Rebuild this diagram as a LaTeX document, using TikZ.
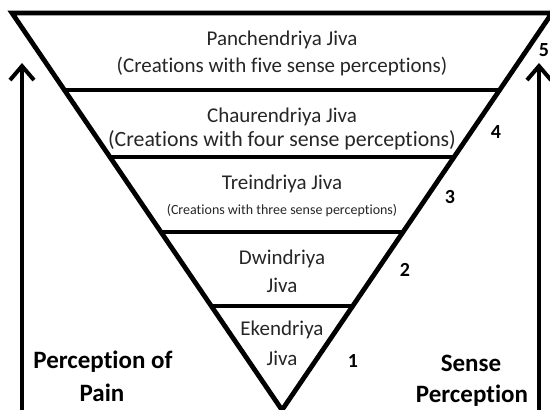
\documentclass[tikz,border=0pt]{standalone}
\usepackage{fontspec}
\setmainfont{Carlito}[Ligatures=NoCommon]
\usetikzlibrary{arrows.meta,calc}
\begin{document}
\begin{tikzpicture}[x=1pt,y=-1pt,
  edge/.style={line width=4.8pt, line join=miter},
  lbl/.style={text=black!85, font=\fontsize{21}{25}\selectfont, inner sep=0pt},
  biglbl/.style={text=black!85, font=\fontsize{21.8}{25}\selectfont, inner sep=0pt},
  smalllbl/.style={text=black!85, font=\fontsize{14}{17}\selectfont, inner sep=0pt},
  num/.style={font=\bfseries\fontsize{20}{24}\selectfont, inner sep=0pt},
  side/.style={font=\bfseries\fontsize{25}{30}\selectfont, inner sep=0pt},
  uparrow/.style={line width=4pt, -{Straight Barb[length=14pt,width=24pt,line width=4pt]}}]
\useasboundingbox (0,0) rectangle (550,410);
\fill[white] (0,0) rectangle (550,410);
\coordinate (TL) at (12,13);
\coordinate (TR) at (552,13);
\coordinate (A) at (282,410);
\draw[edge] (TL) -- (TR) -- (A) -- cycle;
\foreach \t in {0.194,0.3627,0.5516,0.738}
  \draw[edge] ($(TL)!\t!(A)$) -- ($(TR)!\t!(A)$);
% labels
\node[lbl] (p1) at (282,40) {Panchendriya Jiva};
\node[lbl] (p2) at (282,67) {(Creations with five sense perceptions)};
\node[lbl] (c1) at (282,117) {Chaurendriya Jiva};
\node[biglbl] (c2) at (282,140) {(Creations with four sense perceptions)};
\node[lbl] (t1) at (282,184) {Treindriya Jiva};
\node[smalllbl] (t2) at (282,211) {(Creations with three sense perceptions)};
\node[lbl] (d1) at (282,259) {Dwindriya};
\node[lbl] (d2) at (282,285) {Jiva};
\node[lbl] (e1) at (282,330) {Ekendriya};
\node[lbl] (e2) at (282,358) {Jiva};
% numbers
\node[num] (n5) at (544,50) {5};
\node[num] (n4) at (496,132) {4};
\node[num] (n3) at (450,197) {3};
\node[num] (n2) at (405,270) {2};
\node[num] (n1) at (353,361) {1};
% side labels
\node[side] (pp1) at (103,362) {Perception of};
\node[side] (pp2) at (102,393) {Pain};
\node[side] (sp1) at (471,363) {Sense};
\node[side] (sp2) at (472,396) {Perception};
% arrows
\coordinate (L0) at (22,412);
\coordinate (L1) at (22,63);
\coordinate (R0) at (539,412);
\coordinate (R1) at (539,63);
\draw[uparrow] (L0) -- (L1);
\draw[uparrow] (R0) -- (R1);
\end{tikzpicture}
\end{document}
